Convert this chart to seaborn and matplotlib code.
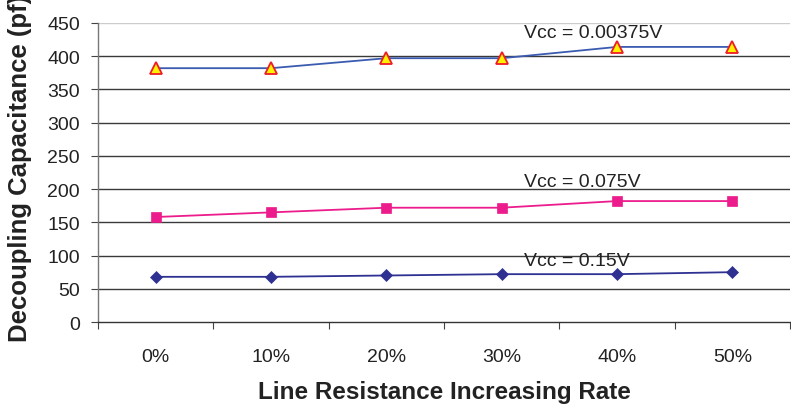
import matplotlib
matplotlib.use("Agg")
import matplotlib.pyplot as plt
import seaborn as sns
import pandas as pd
from matplotlib.ticker import FixedLocator

categories = ["0%", "10%", "20%", "30%", "40%", "50%"]
vcc_000375 = [382, 382, 397, 397, 414, 414]
vcc_0075 = [158, 165, 172, 172, 182, 182]
vcc_015 = [68, 68, 70, 72, 72, 75]
series_labels = ["Vcc = 0.00375V", "Vcc = 0.075V", "Vcc = 0.15V"]
yticks = [0, 50, 100, 150, 200, 250, 300, 350, 400, 450]

sns.set_theme(style="white")
plt.rcParams["font.family"] = ["Liberation Sans", "DejaVu Sans"]

fig = plt.figure(figsize=(7.91, 4.10), dpi=100)
ax = fig.add_axes([98/791, 1-323/410, (790-98)/791, (323-24)/410])

styles = [
    dict(data=vcc_000375, marker="^", color="#3A5BB0", mfc="#FFF200", mec="#EE1C25", ms=9, mew=1.3),
    dict(data=vcc_0075, marker="s", color="#EC1C8C", mfc="#EC1C8C", mec="#EC1C8C", ms=7.5, mew=0.5),
    dict(data=vcc_015, marker="D", color="#2E3192", mfc="#2E3192", mec="#2E3192", ms=6.5, mew=0.5),
]
for st in styles:
    df = pd.DataFrame({"cat": categories, "val": st["data"]})
    sns.lineplot(data=df, x="cat", y="val", ax=ax, color=st["color"], linewidth=1.3,
                 marker=st["marker"], markersize=st["ms"], markerfacecolor=st["mfc"],
                 markeredgecolor=st["mec"], markeredgewidth=st["mew"], zorder=3)

ax.set_xlim(-0.5, 5.5)
ax.set_ylim(0, 450)
ax.set_yticks(yticks)
ax.set_yticklabels([str(v) for v in yticks], fontsize=14, color="#222222")
ax.set_xticks(range(len(categories)))
ax.set_xticklabels(categories, fontsize=14, color="#222222")
ax.xaxis.set_minor_locator(FixedLocator([i - 0.5 for i in range(len(categories) + 1)]))
ax.tick_params(axis="x", which="major", length=0, pad=19)
ax.tick_params(axis="x", which="minor", length=5, width=0.8, color="#444444", direction="out", bottom=True)
ax.tick_params(axis="y", which="major", length=5, width=0.8, color="#444444", direction="out", left=True, pad=8)

for y in yticks[1:]:
    ax.axhline(y, color="#3a3a3a" if y < 450 else "#cccccc", linewidth=1.0, zorder=1)

for side in ["top", "right"]:
    ax.spines[side].set_visible(False)
ax.spines["left"].set_color("#777777")
ax.spines["left"].set_linewidth(1.0)
ax.spines["bottom"].set_color("#333333")
ax.spines["bottom"].set_linewidth(1.0)

ax.set_xlabel("")
ax.set_ylabel("")

ax.text(3.19, 436, series_labels[0], fontsize=14, color="#222222", va="center", ha="left", zorder=4)
ax.text(3.19, 212, series_labels[1], fontsize=14, color="#222222", va="center", ha="left", zorder=4)
ax.text(3.19, 92, series_labels[2], fontsize=14, color="#222222", va="center", ha="left", zorder=4)

fig.text(444/791, 1-393/410, "Line Resistance Increasing Rate", fontsize=17.5, fontweight="bold",
         color="#222222", ha="center", va="center")
fig.text(20/791, 1-342/410, "Decoupling Capacitance (pf)", fontsize=18.5, fontweight="bold",
         color="#222222", ha="center", va="bottom", rotation=90)

fig.savefig("out.png", dpi=100, facecolor="white")
